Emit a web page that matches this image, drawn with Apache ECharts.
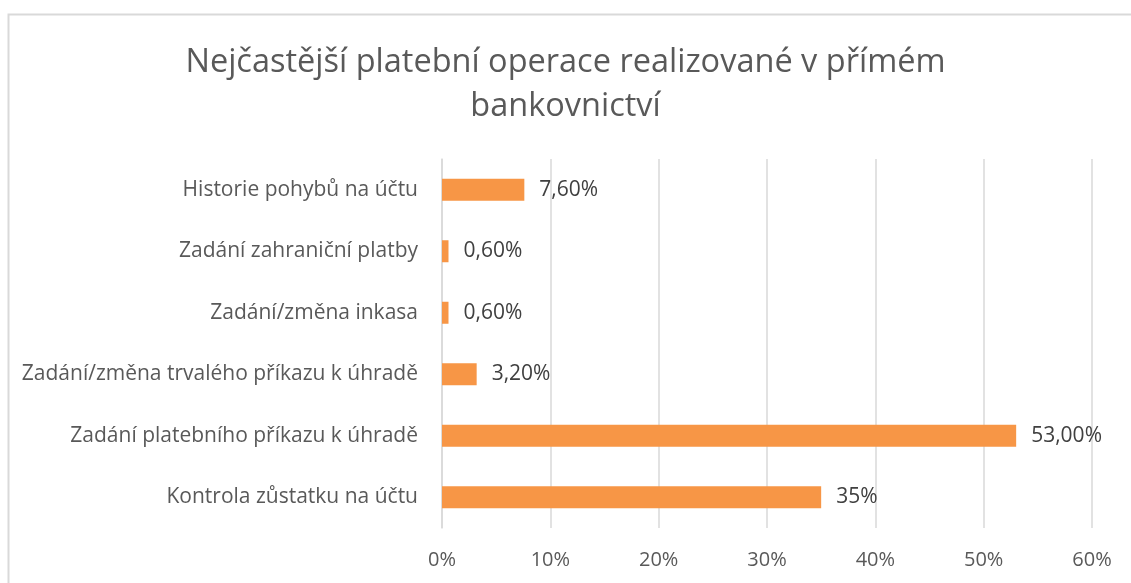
<!DOCTYPE html>
<html>
<head>
<meta charset="utf-8">
<script src="https://cdn.jsdelivr.net/npm/echarts@6/dist/echarts.min.js"></script>
<style>
  html, body { margin: 0; padding: 0; background: #fff; }
  #chart-container { width: 1131px; height: 583px; }
</style>
</head>
<body>
<div id="chart-container"></div>
<script>
var categories = [
  'Kontrola zůstatku na účtu',
  'Zadání platebního příkazu k úhradě',
  'Zadání/změna trvalého příkazu k úhradě',
  'Zadání/změna inkasa',
  'Zadání zahraniční platby',
  'Historie pohybů na účtu'
];
var values = [35, 53, 3.2, 0.6, 0.6, 7.6];
var valueLabels = ['35%', '53,00%', '3,20%', '0,60%', '0,60%', '7,60%'];
var xTicks = [0, 10, 20, 30, 40, 50, 60];

var dom = document.getElementById('chart-container');
var myChart = echarts.init(dom, null, { renderer: 'canvas' });

var font = 'Open Sans';

var option = {
  animation: false,
  backgroundColor: '#fff',
  title: {
    text: 'Nejčastější platební operace realizované v přímém\nbankovnictví',
    left: 'center',
    top: 36,
    textStyle: {
      fontFamily: font,
      fontSize: 32.5,
      fontWeight: 'normal',
      color: '#595959',
      lineHeight: 44
    }
  },
  graphic: [{
    type: 'rect',
    shape: { x: 8.5, y: 14.5, width: 1200, height: 700 },
    style: { fill: 'none', stroke: '#d9d9d9', lineWidth: 2 },
    silent: true
  }],
  grid: { left: 442, right: 39, top: 159, bottom: 55 },
  xAxis: {
    type: 'value',
    min: xTicks[0],
    max: xTicks[xTicks.length - 1],
    interval: 10,
    axisLine: { show: false },
    axisTick: { show: false },
    splitLine: { lineStyle: { color: '#d9d9d9', width: 1.5 } },
    axisLabel: {
      formatter: '{value}%',
      fontFamily: font,
      fontSize: 20,
      color: '#595959',
      margin: 22
    }
  },
  yAxis: {
    type: 'category',
    data: categories,
    axisLine: { lineStyle: { color: '#d9d9d9', width: 1.5 } },
    axisTick: { show: false },
    axisLabel: {
      fontFamily: font,
      fontSize: 21,
      color: '#595959',
      margin: 24
    }
  },
  series: [{
    type: 'bar',
    data: values,
    barWidth: 22,
    itemStyle: { color: '#f79646' },
    label: {
      show: true,
      position: 'right',
      distance: 15,
      fontFamily: font,
      fontSize: 21,
      color: '#404040',
      formatter: function (p) { return valueLabels[p.dataIndex]; }
    }
  }]
};

myChart.setOption(option);
window.addEventListener('resize', myChart.resize);
</script>
</body>
</html>
